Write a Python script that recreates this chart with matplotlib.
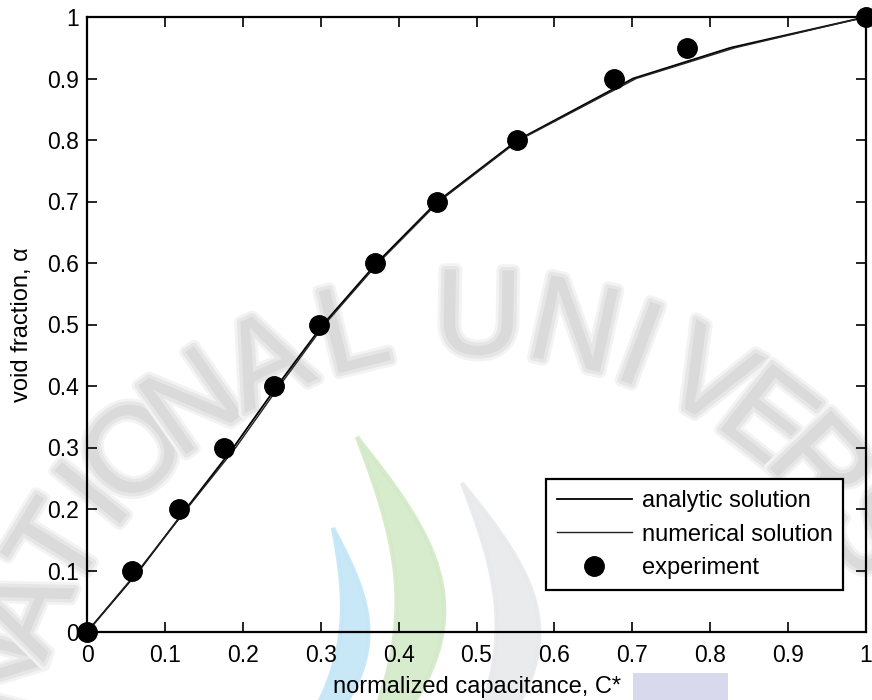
import numpy as np
import matplotlib
matplotlib.use('Agg')
import matplotlib.pyplot as plt
import matplotlib.patheffects as pe
from matplotlib.patches import Polygon, Rectangle

# void fraction vs normalized capacitance
alpha_line = [0.0, 0.1, 0.2, 0.3, 0.4, 0.5, 0.6, 0.7, 0.8, 0.9, 0.95, 1.0]
c_analytic = [0.0, 0.067, 0.127, 0.188, 0.244, 0.303, 0.372, 0.450, 0.553, 0.701, 0.826, 1.0]
c_numerical = [0.0, 0.066, 0.128, 0.191, 0.247, 0.305, 0.374, 0.452, 0.555, 0.705, 0.832, 1.0]

alpha_exp = [0.0, 0.1, 0.2, 0.3, 0.4, 0.5, 0.6, 0.7, 0.8, 0.9, 0.95, 1.0]
c_exp = [0.0, 0.058, 0.118, 0.176, 0.240, 0.298, 0.370, 0.449, 0.552, 0.677, 0.770, 1.0]

ticks = np.round(np.arange(0, 1.01, 0.1), 1)
tick_labels = ['0', '0.1', '0.2', '0.3', '0.4', '0.5', '0.6', '0.7', '0.8', '0.9', '1']

W, H = 872, 700

plt.rcParams['font.family'] = ['Liberation Sans', 'DejaVu Sans']


def fx(x):
    return x / W


def fy(y):
    return 1 - y / H


def crescent(fig, top, bottom, outer, inner, color):
    # region between two bulging curves that share the two tips
    t = np.linspace(0, 1, 80)
    x0 = top[0] + (bottom[0] - top[0]) * t
    y0 = top[1] + (bottom[1] - top[1]) * t
    xo = x0 + outer * np.sin(np.pi * t)
    xi = x0 + inner * np.sin(np.pi * t)
    xs = np.concatenate([xo, xi[::-1]])
    ys = np.concatenate([y0, y0[::-1]])
    poly = Polygon(np.column_stack([fx(xs), fy(ys)]), closed=True,
                   transform=fig.transFigure, facecolor=color,
                   edgecolor=color, linewidth=3, alpha=0.9, zorder=-2)
    fig.patches.append(poly)


def watermark(fig):
    cx, cy, r = 470, 800, 478
    letters = [('N', 165), ('A', 157), ('T', 148.5), ('I', 141), ('O', 134),
               ('N', 125), ('A', 115), ('L', 104), ('U', 89), ('N', 77.5),
               ('I', 69.5), ('V', 60.5), ('E', 52), ('R', 43.5), ('S', 34)]
    soft = [pe.Stroke(linewidth=9, foreground='#f3f3f3'),
            pe.Stroke(linewidth=5, foreground='#e6e6e6'),
            pe.Normal()]
    for ch, ang in letters:
        a = np.deg2rad(ang)
        x = cx + r * np.cos(a)
        y = cy - r * np.sin(a)
        fig.text(fx(x), fy(y), ch, fontsize=88, color='#dadada',
                 rotation=ang - 90, ha='center', va='center',
                 rotation_mode='anchor', zorder=-3, path_effects=soft)
    crescent(fig, (333, 528), (255, 800), 70, 40, '#c4e6f7')
    crescent(fig, (357, 437), (335, 800), 98, 50, '#d3e9c8')
    crescent(fig, (462, 483), (440, 800), 88, 45, '#e8e9ec')
    fig.patches.append(Rectangle((fx(633), 0), fx(728) - fx(633), fy(673),
                                 transform=fig.transFigure, facecolor='#d9d9ee',
                                 edgecolor='none', zorder=-2))


def main():
    fig = plt.figure(figsize=(W / 100, H / 100), dpi=100)
    fig.patch.set_facecolor('white')
    watermark(fig)

    ax = fig.add_axes([fx(87), fy(632), fx(866) - fx(87), fy(17) - fy(632)])
    ax.patch.set_alpha(0)

    ax.plot(c_analytic, alpha_line, color='black', lw=1.3, label='analytic solution')
    ax.plot(c_numerical, alpha_line, color='#222222', lw=1.0, label='numerical solution')
    ax.plot(c_exp, alpha_exp, 'o', color='black', ms=14, clip_on=False, zorder=5,
            label='experiment')

    ax.set_xlim(0, 1)
    ax.set_ylim(0, 1)
    ax.set_xticks(ticks)
    ax.set_yticks(ticks)
    ax.set_xticklabels(tick_labels)
    ax.set_yticklabels(tick_labels)
    ax.tick_params(direction='in', top=True, right=True, length=7, width=1.2,
                   labelsize=16.5)
    ax.tick_params(axis='x', pad=9)
    ax.tick_params(axis='y', pad=6)
    for s in ax.spines.values():
        s.set_linewidth(1.6)

    ax.set_xlabel('normalized capacitance, C*', fontsize=17, labelpad=6)
    ax.set_ylabel('void fraction, α', fontsize=17, labelpad=10)

    leg = ax.legend(loc='lower right', bbox_to_anchor=(fx(843), fy(590)),
                    bbox_transform=fig.transFigure, borderaxespad=0,
                    fontsize=17, handlelength=3.2, handletextpad=0.4,
                    labelspacing=0.5, borderpad=0.45, fancybox=False,
                    framealpha=1, edgecolor='black')
    leg.get_frame().set_linewidth(1.6)

    fig.savefig('out.png', dpi=100)


if __name__ == '__main__':
    main()
